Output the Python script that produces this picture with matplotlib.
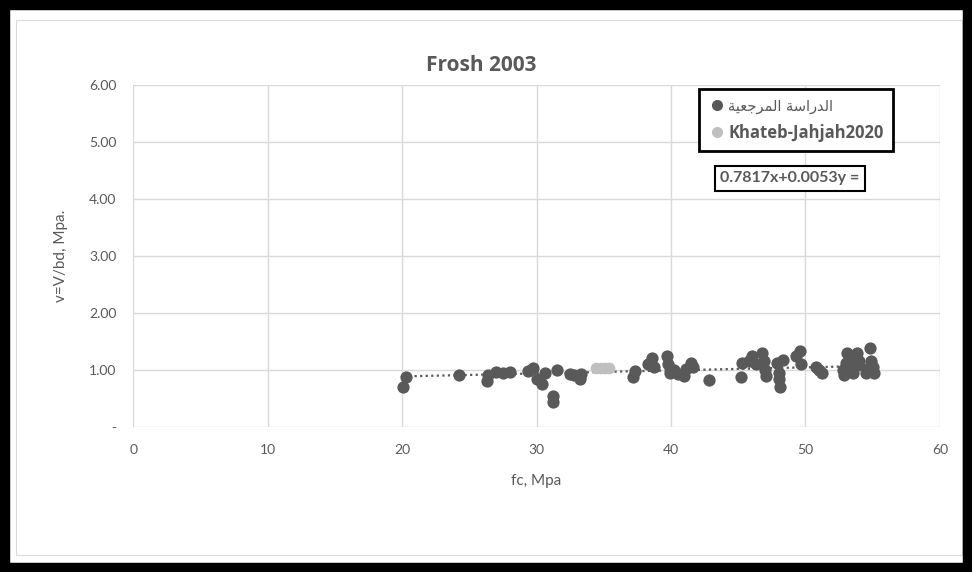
import numpy as np
import matplotlib.pyplot as plt
from matplotlib.lines import Line2D
from matplotlib.patches import Rectangle

# reference study points (fc, v)
fc_ref = [20.1, 20.3, 24.2, 26.3, 26.4, 27.0, 27.5, 28.0, 29.4, 29.7,
          30.0, 30.4, 30.6, 31.2, 31.2, 31.5, 32.5, 32.8, 33.2, 33.3,
          37.2, 37.3, 38.3, 38.6, 38.7, 39.7, 39.8, 39.9, 40.2, 40.5,
          41.0, 41.1, 41.5, 41.6, 42.8, 45.2, 45.3, 45.8, 46.0, 46.3,
          46.8, 46.9, 47.0, 47.1, 47.9, 48.0, 48.0, 48.1, 48.3, 49.3,
          49.6, 49.7, 50.8, 51.0, 51.2, 52.8, 52.9, 53.0, 53.1, 53.3,
          53.4, 53.5, 53.8, 53.9, 54.0, 54.5, 54.6, 54.8, 54.9, 55.0, 55.1]
v_ref = [0.70, 0.88, 0.92, 0.80, 0.92, 0.96, 0.95, 0.97, 0.98, 1.03,
         0.85, 0.75, 0.95, 0.55, 0.44, 1.00, 0.93, 0.92, 0.84, 0.93,
         0.87, 0.98, 1.10, 1.22, 1.05, 1.25, 1.10, 0.95, 1.00, 0.93,
         0.90, 1.02, 1.12, 1.05, 0.82, 0.87, 1.12, 1.15, 1.25, 1.10,
         1.30, 1.15, 1.00, 0.90, 1.12, 0.95, 0.84, 0.70, 1.18, 1.25,
         1.33, 1.10, 1.05, 1.00, 0.95, 1.00, 0.92, 1.12, 1.30, 1.20,
         1.05, 0.95, 1.30, 1.08, 1.15, 0.95, 1.02, 1.38, 1.15, 1.05, 0.95]

# Khateb-Jahjah2020 points
fc_kj = [34.4, 34.8, 35.1, 35.4]
v_kj = [1.03, 1.04, 1.03, 1.04]

# trendline shown on chart: y = 0.0053x + 0.7817
slope = 0.0053
intercept = 0.7817

x_ticks = [0, 10, 20, 30, 40, 50, 60]
y_ticks = [0, 1, 2, 3, 4, 5, 6]
y_tick_labels = ["-", "1.00", "2.00", "3.00", "4.00", "5.00", "6.00"]

# Arabic legend label, pre-shaped (presentation forms, visual order)
label_ref = ("\uFE94\uFEF4\uFECC\uFE9F\uFEAE\uFEE4\uFEDF\uFE8D "
             "\uFE94\uFEB3\uFE8D\uFEAD\uFEAA\uFEDF\uFE8D")
label_kj = "Khateb-Jahjah2020"

TXT = "#595959"
DARK = "#595959"
LIGHT = "#bfbfbf"

plt.rcParams["font.family"] = ["Lato", "DejaVu Sans"]

fig = plt.figure(figsize=(9.72, 5.72), dpi=100)
ax = fig.add_axes([0.137, 0.2535, 0.83, 0.5975])

xs = np.array([min(fc_ref), max(fc_ref)])
ax.plot(xs, slope * xs + intercept, linestyle=(0, (1, 1.5)), color=DARK,
        linewidth=1.6, zorder=2)
ax.scatter(fc_ref, v_ref, s=78, color=DARK, zorder=3, linewidths=0)
ax.scatter(fc_kj, v_kj, s=70, color=LIGHT, zorder=3, linewidths=0)

ax.set_xlim(0, 60)
ax.set_ylim(0, 6)
ax.set_xticks(x_ticks)
ax.set_yticks(y_ticks)
ax.set_yticklabels(y_tick_labels)
ax.grid(True, color="#d9d9d9", linewidth=1)
ax.set_axisbelow(True)
for s in ax.spines.values():
    s.set_visible(False)
ax.tick_params(length=0, colors=TXT, labelsize=10, pad=12)

fig.text(0.495, 0.885, "Frosh 2003", ha="center", va="center", fontsize=15,
         fontweight="bold", color=TXT, family=["Open Sans", "DejaVu Sans"])
ax.set_xlabel("fc, Mpa", fontsize=11, color=TXT, labelpad=13)
ax.set_ylabel("v=V/bd, Mpa.", fontsize=11, color=TXT, labelpad=15)

handles = [
    Line2D([], [], marker="o", linestyle="none", color=DARK, markersize=7),
    Line2D([], [], marker="o", linestyle="none", color=LIGHT, markersize=7),
]
leg = ax.legend(handles, [label_ref, label_kj], loc="upper right",
                bbox_to_anchor=(0.952, 1.012), frameon=True, fancybox=False,
                edgecolor="black", framealpha=1, fontsize=12,
                handletextpad=0.2, borderpad=0.55, labelspacing=0.6,
                handlelength=1.0)
leg.get_frame().set_linewidth(2)
t0, t1 = leg.get_texts()
t0.set_fontfamily(["DejaVu Sans"])
t0.set_fontsize(10.5)
t1.set_fontfamily(["Open Sans", "DejaVu Sans"])
t1.set_fontweight("bold")
for t in leg.get_texts():
    t.set_color(TXT)

ax.text(0.814, 0.728, "0.7817x+0.0053y =", transform=ax.transAxes,
        ha="center", va="center", fontsize=11.5, fontweight="bold", color=TXT,
        bbox=dict(boxstyle="square,pad=0.35", facecolor="white",
                  edgecolor="black", linewidth=1.5))

# chart area frame and outer black border
fig.patches.append(Rectangle((0.016, 0.03), 0.974, 0.935,
                             transform=fig.transFigure, fill=False,
                             edgecolor="#d9d9d9", linewidth=0.8))
fig.patches.append(Rectangle((0, 0), 1, 1, transform=fig.transFigure,
                             fill=False, edgecolor="black", linewidth=14))

fig.savefig("out.png", dpi=100)
